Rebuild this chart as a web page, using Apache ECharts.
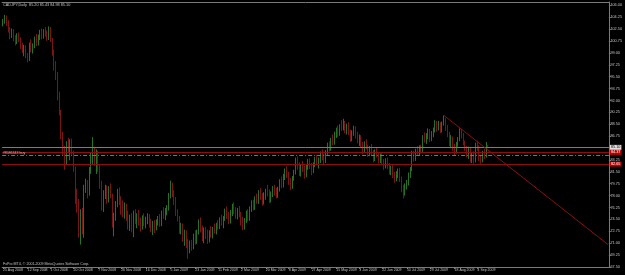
<!DOCTYPE html>
<html><head><meta charset="utf-8">
<script src="https://cdn.jsdelivr.net/npm/echarts@6/dist/echarts.min.js"></script>
<style>html,body{margin:0;padding:0;background:#000}#c{width:625px;height:275px}</style>
</head><body><div id="c"></div>
<script>
const symbolTitle = 'CADJPY,Daily  85.20 85.43 84.98 85.10';
const copyright = 'FxPro MT4, \u00a9 2001-2009 MetaQuotes Software Corp.';
const totalSlots = 344;
const timeLabels = ['25 Aug 2008','12 Sep 2008','1 Oct 2008','20 Oct 2008','7 Nov 2008','26 Nov 2008','16 Dec 2008','5 Jan 2009','23 Jan 2009','11 Feb 2009','2 Mar 2009','20 Mar 2009','8 Apr 2009','27 Apr 2009','15 May 2009','3 Jun 2009','22 Jun 2009','10 Jul 2009','29 Jul 2009','18 Aug 2009','4 Sep 2009'];
const priceMin = 67.5, priceMax = 106.49, priceStep = 1.75;
const bidPrice = 85.10, tpPrice = 84.37, orderPrice = 83.87, slPrice = 82.65;
const orderLabel = '#8586343 buy';
const trendLine = [['10 Aug 2009', 89.8], ['17 Dec 2009', 70.8]];
// [open, high, low, close]
const bars = [
[103.2,104.0,102.9,103.8],[103.8,104.6,103.3,104.2],[104.2,104.5,103.0,103.4],[103.4,103.8,102.0,102.4],[102.4,102.8,101.0,101.5],
[101.5,102.6,101.2,102.2],[102.2,102.5,100.7,101.0],[101.0,101.6,100.1,100.6],[100.6,101.9,100.3,101.5],[101.5,102.0,100.6,101.0],
[101.0,101.3,99.6,100.0],[100.0,100.5,99.0,99.4],[99.4,100.2,98.5,99.8],[99.8,100.1,98.2,98.6],[98.6,99.0,97.6,98.0],
[98.0,100.5,97.8,100.2],[100.2,101.0,99.1,99.6],[99.6,100.4,98.9,100.1],[100.1,101.4,99.7,101.0],[101.0,101.8,100.0,100.4],
[100.4,101.7,100.1,101.4],[101.4,102.4,100.9,102.1],[102.1,102.6,101.0,101.4],[101.4,102.5,101.1,102.2],[102.2,102.8,101.4,101.8],
[101.8,102.3,100.8,101.2],[101.2,102.9,100.9,102.5],[102.5,102.8,100.6,100.9],[100.9,101.2,98.6,99.0],[99.0,99.5,96.4,97.0],
[97.0,97.8,95.0,95.6],[95.6,96.2,92.0,92.6],[92.6,93.3,89.8,90.2],[90.2,90.6,86.3,86.8],[86.8,87.4,84.0,84.5],
[84.5,85.3,81.8,83.0],[83.0,86.0,82.5,85.6],[85.6,86.5,84.3,84.8],[84.8,86.3,83.2,85.8],[85.8,86.4,84.0,84.4],
[84.4,84.6,81.5,81.9],[81.9,82.3,76.8,77.5],[77.5,79.0,75.5,76.2],[76.2,77.5,71.8,73.0],[73.0,76.0,70.8,75.3],
[75.3,76.2,72.3,73.2],[73.2,79.6,71.8,79.0],[79.0,80.5,78.4,80.1],[80.1,80.3,77.6,78.4],[78.4,82.2,78.0,81.8],
[81.8,84.3,81.2,83.9],[83.9,86.6,82.5,84.5],[84.5,85.2,82.4,83.0],[83.0,84.8,81.2,84.2],[84.2,84.6,81.5,82.0],
[82.0,82.5,79.0,79.6],[79.6,80.2,75.8,76.6],[76.6,78.8,75.6,78.3],[78.3,79.6,77.5,79.2],[79.2,79.5,76.8,77.4],
[77.4,79.4,77.0,78.9],[78.9,79.8,77.6,78.0],[78.0,78.3,73.3,74.0],[74.0,75.5,72.0,74.9],[74.9,77.2,74.3,76.8],
[76.8,79.0,76.3,78.6],[78.6,79.2,76.6,77.0],[77.0,77.9,75.2,76.0],[76.0,77.3,74.8,75.4],[75.4,77.0,74.6,76.3],
[76.3,76.8,74.3,74.8],[74.8,75.8,73.0,73.6],[73.6,75.2,72.8,74.7],[74.7,75.4,72.6,73.1],[73.1,75.8,71.9,75.3],
[75.3,76.0,73.8,74.4],[74.4,75.4,73.2,75.0],[75.0,75.9,73.6,74.0],[74.0,74.8,72.7,73.5],[73.5,75.1,73.0,74.6],
[74.6,75.4,73.5,74.0],[74.0,74.9,73.2,74.3],[74.3,75.4,73.8,74.9],[74.9,75.3,73.3,73.8],[73.8,74.6,72.6,73.1],
[73.1,74.3,72.2,74.0],[74.0,74.4,72.5,73.2],[73.2,74.5,72.9,74.2],[74.2,75.0,73.6,74.8],[74.8,75.3,73.4,73.9],
[73.9,75.8,73.5,75.5],[75.5,76.3,74.6,75.0],[75.0,76.2,74.4,75.9],[75.9,76.6,75.1,76.1],[76.1,78.4,75.8,78.0],
[78.0,80.2,77.6,79.5],[79.5,79.9,77.8,78.3],[78.3,78.8,76.6,77.2],[77.2,77.8,75.0,75.6],[75.6,76.0,74.2,74.6],
[74.6,75.0,72.4,72.9],[72.9,74.0,72.3,73.6],[73.6,73.9,71.2,71.8],[71.8,73.0,70.6,72.5],[72.5,72.9,70.3,70.8],
[70.8,71.6,68.7,70.1],[70.1,71.4,69.5,71.0],[71.0,71.5,69.9,70.4],[70.4,72.4,70.1,72.0],[72.0,72.9,70.8,71.3],
[71.3,73.0,70.9,72.7],[72.7,74.5,72.3,74.0],[74.0,74.8,72.6,73.1],[73.1,73.6,71.3,71.9],[71.9,73.3,71.0,72.8],
[72.8,73.4,71.6,72.1],[72.1,73.0,70.9,71.5],[71.5,72.9,71.1,72.6],[72.6,73.5,71.8,72.2],[72.2,73.4,71.7,73.0],
[73.0,73.9,72.4,72.8],[72.8,74.0,72.3,73.7],[73.7,74.4,73.0,73.4],[73.4,74.8,73.1,74.5],[74.5,75.2,73.6,74.0],
[74.0,75.0,73.2,74.7],[74.7,76.1,74.3,75.8],[75.8,76.4,74.6,75.1],[75.1,75.6,73.8,74.3],[74.3,75.9,73.9,75.5],
[75.5,76.8,75.0,76.4],[76.4,77.0,75.3,75.7],[75.7,76.3,74.6,75.0],[75.0,76.2,74.5,75.9],[75.9,76.5,74.8,75.2],
[75.2,75.6,73.6,74.1],[74.1,74.9,72.9,73.5],[73.5,74.7,73.0,74.3],[74.3,75.8,74.0,75.4],[75.4,76.0,74.2,74.6],
[74.6,76.4,74.3,76.1],[76.1,77.3,75.6,76.8],[76.8,77.4,75.8,76.2],[76.2,77.9,75.9,77.5],[77.5,78.3,76.8,77.1],
[77.1,78.8,76.8,78.4],[78.4,79.1,77.4,77.8],[77.8,78.4,76.5,77.0],[77.0,78.5,76.7,78.1],[78.1,79.0,77.4,78.7],
[78.7,79.6,77.9,78.3],[78.3,78.9,76.9,77.4],[77.4,78.6,77.0,78.2],[78.2,79.4,77.8,79.0],[79.0,79.6,78.0,78.5],
[78.5,79.1,77.6,78.0],[78.0,79.3,77.7,79.0],[79.0,80.4,78.6,80.0],[80.0,80.8,79.1,79.5],[79.5,81.2,79.2,80.9],
[80.9,82.0,80.3,81.6],[81.6,82.3,80.6,81.0],[81.0,81.5,79.6,80.1],[80.1,80.6,78.8,79.4],[79.4,80.9,79.0,80.6],
[80.6,81.8,80.2,81.4],[81.4,83.6,81.1,83.2],[83.2,83.8,81.8,82.3],[82.3,82.9,80.9,81.4],[81.4,82.6,80.8,82.2],
[82.2,83.1,81.5,81.9],[81.9,82.4,80.5,81.0],[81.0,82.5,80.7,82.1],[82.1,83.4,81.8,83.0],[83.0,83.5,81.9,82.4],
[82.4,82.8,81.0,81.6],[81.6,82.9,81.3,82.6],[82.6,83.7,82.2,83.3],[83.3,84.0,82.5,82.9],[82.9,83.6,82.0,83.2],
[83.2,84.5,82.8,84.1],[84.1,84.8,83.2,83.6],[83.6,84.2,82.6,83.0],[83.0,84.7,82.8,84.4],[84.4,85.8,84.0,85.4],
[85.4,86.0,84.5,84.9],[84.9,86.5,84.6,86.2],[86.2,87.0,85.4,85.8],[85.8,87.4,85.5,87.1],[87.1,88.0,86.5,87.6],
[87.6,88.3,86.6,87.0],[87.0,88.5,86.8,88.2],[88.2,89.1,87.5,88.0],[88.0,89.3,87.6,88.7],[88.7,89.0,87.2,87.6],
[87.6,88.6,87.0,88.2],[88.2,88.8,86.9,87.3],[87.3,87.7,85.9,86.3],[86.3,87.6,86.0,87.2],[87.2,88.3,86.8,87.9],
[87.9,88.2,86.4,86.8],[86.8,87.4,85.7,86.1],[86.1,87.0,85.3,86.6],[86.6,86.9,85.0,85.4],[85.4,85.9,84.1,84.6],
[84.6,86.0,84.3,85.7],[85.7,86.3,84.8,85.1],[85.1,85.5,83.7,84.2],[84.2,85.3,83.8,85.0],[85.0,85.6,83.9,84.3],
[84.3,84.7,82.9,83.4],[83.4,84.8,83.1,84.5],[84.5,85.1,83.6,84.0],[84.0,84.4,82.7,83.1],[83.1,84.2,82.8,83.8],
[83.8,84.3,82.6,83.0],[83.0,83.4,81.8,82.3],[82.3,83.5,82.0,83.1],[83.1,83.6,81.9,82.4],[82.4,82.8,81.1,81.6],
[81.6,82.4,81.0,82.0],[82.0,82.5,80.6,81.1],[81.1,81.5,79.9,80.4],[80.4,81.6,80.1,81.2],[81.2,82.0,80.6,81.7],
[81.7,82.1,80.0,80.4],[80.4,80.8,78.5,79.0],[79.0,79.6,77.6,78.4],[78.4,79.8,78.0,79.5],[79.5,80.3,78.9,79.8],
[79.8,81.4,79.5,81.1],[81.1,82.2,80.6,81.9],[81.9,84.6,81.6,84.1],[84.1,84.6,83.0,83.4],[83.4,84.9,83.1,84.6],
[84.6,85.3,83.9,84.3],[84.3,85.4,83.9,85.1],[85.1,85.5,84.2,84.6],[84.6,86.9,84.3,86.6],[86.6,87.3,85.8,86.2],
[86.2,87.2,85.6,86.9],[86.9,87.9,86.3,87.5],[87.5,87.8,85.9,86.4],[86.4,87.5,86.0,87.2],[87.2,88.0,86.6,87.7],
[87.7,89.1,87.3,88.7],[88.7,89.0,87.4,87.9],[87.9,89.0,87.6,88.4],[88.4,88.8,87.2,87.6],[87.6,88.9,87.3,88.6],
[88.6,89.8,88.3,89.2],[89.2,89.4,87.5,87.9],[87.9,88.4,86.6,87.0],[87.0,87.4,85.3,85.8],[85.8,86.9,85.0,86.3],
[86.3,86.7,84.6,85.0],[85.0,85.6,84.0,84.5],[84.5,85.9,84.2,85.6],[85.6,86.6,85.2,86.3],[86.3,87.9,86.0,87.5],
[87.5,87.8,86.4,86.8],[86.8,87.2,85.4,85.8],[85.8,86.1,84.6,84.9],[84.9,85.3,83.6,84.0],[84.0,85.2,83.4,84.8],
[84.8,85.0,82.9,83.3],[83.3,84.4,82.8,84.0],[84.0,84.5,82.7,83.1],[83.1,85.8,82.9,85.4],[85.4,86.1,84.6,85.0],
[85.0,85.4,83.1,83.6],[83.6,84.0,82.7,83.2],[83.2,84.6,82.9,84.3],[84.3,84.9,83.4,83.8],[83.8,85.9,83.6,85.2],
[85.2,85.43,84.98,85.10]
];

// trading-day calendar (weekdays) for the category axis
const MONTHS = ['Jan','Feb','Mar','Apr','May','Jun','Jul','Aug','Sep','Oct','Nov','Dec'];
const dates = [];
{
  const d = new Date(2008, 7, 25);
  while (dates.length < totalSlots) {
    const wd = d.getDay();
    if (wd !== 0 && wd !== 6) dates.push(d.getDate() + ' ' + MONTHS[d.getMonth()] + ' ' + d.getFullYear());
    d.setDate(d.getDate() + 1);
  }
}
const labelSet = new Set(timeLabels);
const candleData = bars.map(b => [b[0], b[3], b[2], b[1]]);

const FONT = "'Liberation Sans Narrow','Liberation Sans',sans-serif";
const FG = '#c4c4c4';
const AX = '#7a7a7a';
const RED = '#8e0e0e';
const UP = '#2f8f2f', DOWN = '#9a1a1a';

const chart = echarts.init(document.getElementById('c'), null, {renderer: 'canvas'});
chart.setOption({
  backgroundColor: '#000',
  animation: false,
  grid: {left: 2, right: 15, top: 2, bottom: 8, containLabel: false},
  xAxis: [{
    type: 'category', data: dates, boundaryGap: true,
    axisLine: {lineStyle: {color: AX, width: 1}},
    axisTick: {show: true, length: 2, interval: (i, v) => labelSet.has(v), lineStyle: {color: AX}, alignWithLabel: true},
    axisLabel: {interval: (i, v) => labelSet.has(v), color: FG, fontSize: 3.5, fontFamily: FONT, align: 'left', margin: 1.5},
    splitLine: {show: false}
  }, {
    type: 'category', data: dates, position: 'top',
    axisLine: {lineStyle: {color: AX, width: 1}},
    axisTick: {show: false}, axisLabel: {show: false}, splitLine: {show: false}
  }],
  yAxis: {
    type: 'value', position: 'right', min: priceMin, max: priceMax, interval: priceStep, scale: true,
    axisLine: {show: true, lineStyle: {color: AX, width: 1}},
    axisTick: {show: true, length: 2, lineStyle: {color: AX}},
    axisLabel: {color: FG, fontSize: 3.8, fontFamily: FONT, margin: 1.5, showMaxLabel: false,
      formatter: v => v.toFixed(2)},
    splitLine: {show: false}
  },
  graphic: [
    {type: 'text', left: 3, top: 3, style: {text: symbolTitle, fill: FG, fontSize: 3.8, fontFamily: FONT}},
    {type: 'text', left: 3, top: 262, style: {text: copyright, fill: FG, fontSize: 3.6, fontFamily: FONT}}
  ],
  series: [{
    type: 'candlestick',
    data: candleData,
    barWidth: 0.8,
    itemStyle: {color: UP, color0: DOWN, borderColor: UP, borderColor0: DOWN, borderWidth: 0.8},
    markLine: {
      silent: true, symbol: ['none', 'none'], animation: false,
      data: [
        {yAxis: bidPrice, lineStyle: {color: '#7c7c7c', width: 1, type: 'solid'},
          label: {show: true, position: 'end', distance: 1, formatter: bidPrice.toFixed(2), color: '#000', backgroundColor: '#e0e0e0', padding: [0.5, 1], fontSize: 3.8, fontFamily: FONT}},
        {yAxis: tpPrice, lineStyle: {color: RED, width: 1, type: 'solid'},
          label: {show: true, position: 'end', distance: 1, formatter: tpPrice.toFixed(2), color: '#fff', backgroundColor: '#c00000', padding: [0.5, 1], fontSize: 3.8, fontFamily: FONT}},
        {yAxis: orderPrice, lineStyle: {color: '#6f7a68', width: 1, type: [4, 2, 1, 2]},
          label: {show: true, position: 'insideStartTop', distance: 0.5, formatter: orderLabel, color: FG, fontSize: 3.6, fontFamily: FONT}},
        {yAxis: slPrice, lineStyle: {color: RED, width: 1, type: 'solid'},
          label: {show: true, position: 'end', distance: 1, formatter: slPrice.toFixed(2), color: '#fff', backgroundColor: '#c00000', padding: [0.5, 1], fontSize: 3.8, fontFamily: FONT}},
        [
          {coord: trendLine[0], lineStyle: {color: RED, width: 1, type: 'solid'}, label: {show: false}},
          {coord: trendLine[1]}
        ]
      ]
    }
  }]
});
</script>
</body></html>
